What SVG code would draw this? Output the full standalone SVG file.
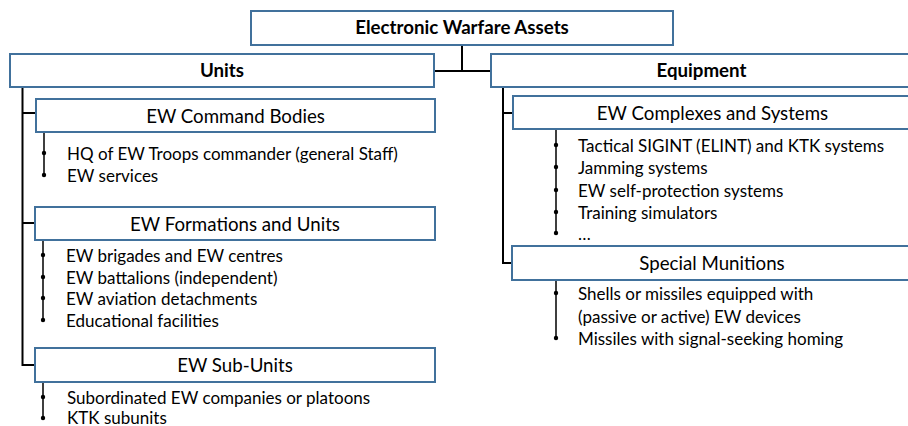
<svg xmlns="http://www.w3.org/2000/svg" width="908" height="426" viewBox="0 0 908 426">
<style>
.box{fill:#fff;stroke:#41719c;stroke-width:2}
.t{font-family:Lato,"Liberation Sans",sans-serif;font-size:17px;fill:#000}
.h{font-size:18.7px}
.c{text-anchor:middle}
.b{font-weight:bold}
.ln{stroke:#000;stroke-width:2;fill:none}
.bl{stroke:#000;stroke-width:1.5;fill:none}
.dot{fill:#000}
</style>
<rect width="908" height="426" fill="#fff"/>
<g id="connectors">
<path class="ln" d="M462,45 V71 M434,71 H491"/>
<path class="ln" d="M22.5,87 V365 H36 M22.5,113 H36 M22.5,223 H36"/>
<path class="ln" d="M503,87 V263 H513 M503,113 H513"/>
<path class="bl" d="M44,132 V175 M43,240 V320 M43,382 V418 M556,129 V233 M556,280 V338"/>
<g class="dot">
<circle cx="44" cy="153" r="2.2"/><circle cx="44" cy="175" r="2.2"/>
<circle cx="43" cy="255" r="2.2"/><circle cx="43" cy="277" r="2.2"/><circle cx="43" cy="298" r="2.2"/><circle cx="43" cy="320" r="2.2"/>
<circle cx="43" cy="397" r="2.2"/><circle cx="43" cy="418" r="2.2"/>
<circle cx="556" cy="145" r="2.2"/><circle cx="556" cy="167" r="2.2"/><circle cx="556" cy="190" r="2.2"/><circle cx="556" cy="212" r="2.2"/><circle cx="556" cy="233" r="2.2"/>
<circle cx="556" cy="293" r="2.2"/><circle cx="556" cy="338" r="2.2"/>
</g>
</g>
<g id="root">
<rect class="box" x="251" y="11" width="422" height="34"/>
<text class="t h c b" x="462" y="34">Electronic Warfare Assets</text>
</g>
<g id="units">
<rect class="box" x="10" y="54" width="424" height="33"/>
<text class="t h c b" x="222" y="76.5">Units</text>
</g>
<g id="equipment">
<rect class="box" x="491" y="54" width="421" height="33"/>
<text class="t h c b" x="701.5" y="76.5">Equipment</text>
</g>
<g id="command-bodies">
<rect class="box" x="36" y="99" width="399" height="33"/>
<text class="t h c" x="235.5" y="122.5">EW Command Bodies</text>
<text class="t" x="67" y="160">HQ of EW Troops commander (general Staff)</text>
<text class="t" x="67" y="182">EW services</text>
</g>
<g id="formations">
<rect class="box" x="35" y="207" width="400" height="33"/>
<text class="t h c" x="235" y="230.5">EW Formations and Units</text>
<text class="t" x="66" y="262">EW brigades and EW centres</text>
<text class="t" x="66" y="284">EW battalions (independent)</text>
<text class="t" x="66" y="305">EW aviation detachments</text>
<text class="t" x="66" y="327">Educational facilities</text>
</g>
<g id="sub-units">
<rect class="box" x="35" y="348" width="400" height="34"/>
<text class="t h c" x="235" y="371.5">EW Sub-Units</text>
<text class="t" x="67" y="404">Subordinated EW companies or platoons</text>
<text class="t" x="67" y="423.5">KTK subunits</text>
</g>
<g id="complexes">
<rect class="box" x="513" y="96" width="399" height="33"/>
<text class="t h c" x="712.5" y="119.5">EW Complexes and Systems</text>
<text class="t" x="578" y="152">Tactical SIGINT (ELINT) and KTK systems</text>
<text class="t" x="578" y="174">Jamming systems</text>
<text class="t" x="578" y="197">EW self-protection systems</text>
<text class="t" x="578" y="219">Training simulators</text>
<text class="t" x="578" y="240">…</text>
</g>
<g id="munitions">
<rect class="box" x="512" y="246" width="400" height="34"/>
<text class="t h c" x="712" y="269.5">Special Munitions</text>
<text class="t" x="578" y="300">Shells or missiles equipped with</text>
<text class="t" x="578" y="323">(passive or active) EW devices</text>
<text class="t" x="578" y="345">Missiles with signal-seeking homing</text>
</g>
</svg>
